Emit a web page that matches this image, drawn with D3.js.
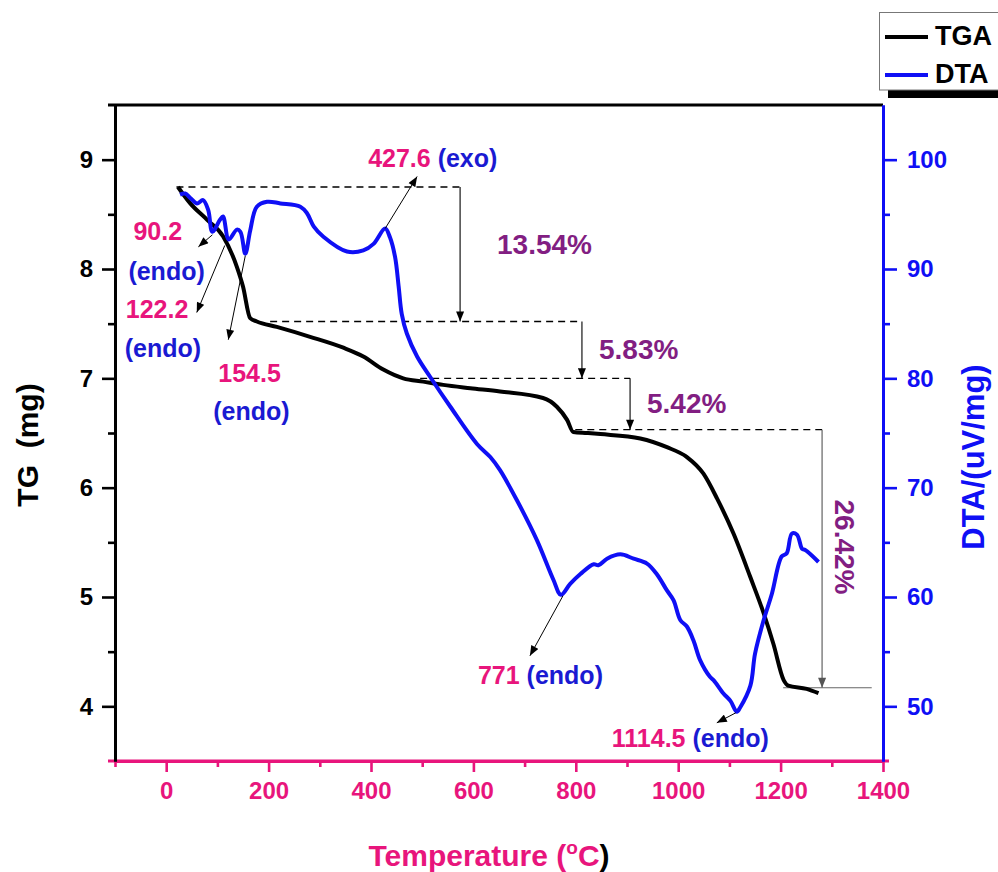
<!DOCTYPE html>
<html>
<head>
<meta charset="utf-8">
<script src="https://cdn.jsdelivr.net/npm/d3@7"></script>
<style>
  body { margin: 0; background: #fff; }
  svg { display: block; }
  text { font-family: "Liberation Sans", Arial, sans-serif; font-weight: bold; }
</style>
</head>
<body>
<svg id="chart" width="998" height="872"></svg>
<script>
// ---- Thermogram data ----
const tgaTemp = [23, 47, 80, 111, 138, 150, 164, 177, 216, 281, 346, 385, 424, 463, 502, 541, 594, 652, 736, 763, 783, 795, 822, 848, 926, 978, 1017, 1049, 1076, 1108, 1141, 1167, 1186, 1206, 1215, 1251, 1274];
const tgaMass = [8.75, 8.60, 8.45, 8.30, 8.02, 7.84, 7.55, 7.52, 7.47, 7.38, 7.28, 7.20, 7.08, 7.00, 6.97, 6.94, 6.91, 6.88, 6.82, 6.74, 6.62, 6.51, 6.50, 6.49, 6.45, 6.37, 6.28, 6.13, 5.90, 5.58, 5.18, 4.85, 4.57, 4.24, 4.19, 4.16, 4.12];

const dtaTemp = [27, 37, 47, 60, 72, 82, 90.2, 105, 111, 122.2, 138, 145, 154.5, 164, 177, 197, 223, 262, 275, 288, 307, 353, 385, 405, 427.6, 437, 447, 454, 460, 470, 490, 516, 555, 607, 633, 652, 685, 724, 756, 771, 789, 809, 835, 844, 861, 887, 913, 939, 958, 978, 991, 1004, 1017, 1030, 1043, 1062, 1069, 1088, 1102, 1114.5, 1121, 1141, 1150, 1167, 1183, 1202, 1212, 1222, 1232, 1242, 1248, 1261, 1274];
const dtaSignal = [96.8, 96.9, 96.5, 96.0, 96.3, 95.4, 93.4, 94.5, 94.8, 92.7, 93.6, 93.4, 91.4, 93.5, 95.7, 96.15, 96.0, 95.7, 95.1, 93.9, 92.95, 91.6, 91.7, 92.3, 93.7, 92.9, 91.1, 88.4, 85.9, 84.1, 82.0, 80.1, 77.4, 74.0, 72.8, 71.6, 68.85, 65.2, 61.6, 60.2, 61.2, 62.1, 63.0, 62.9, 63.5, 63.9, 63.5, 63.06, 62.1, 60.6, 59.7, 57.9, 57.3, 56.0, 54.2, 52.7, 52.4, 51.2, 50.5, 49.5, 49.9, 51.9, 54.8, 57.9, 60.3, 63.7, 64.0, 65.8, 65.7, 64.4, 64.3, 63.8, 63.2];

const tempTicks = [0, 200, 400, 600, 800, 1000, 1200, 1400];
const tempMinor = [-100, 100, 300, 500, 700, 900, 1100, 1300];
const massTicks = [4, 5, 6, 7, 8, 9];
const massMinor = [4.5, 5.5, 6.5, 7.5, 8.5];
const dtaTicks = [50, 60, 70, 80, 90, 100];
const dtaMinor = [55, 65, 75, 85, 95];

// DTA peaks (temperature in °C) and their type
const peakTemp = [90.2, 122.2, 154.5, 427.6, 771, 1114.5];
const peakKind = ["endo", "endo", "endo", "exo", "endo", "endo"];

// TG plateaus (mg) and the mass loss between them
const stepMass = [8.75, 7.52, 7.00, 6.53, 4.17];
const stepLoss = ["13.54%", "5.83%", "5.42%", "26.42%"];
const stepArrowTemp = [574, 812, 906, 1281];
const stepLineFrom = [20, 203, 496, 799];
const finalLineSpan = [1205, 1378];

// ---- Styling ----
const PINK = "#e8157c", BLUE = "#0f0ff5", TXTBLUE = "#1a1ad2", PURPLE = "#821e82";

const svg = d3.select("#chart");
const M = { left: 115, right: 883, top: 105, bottom: 761 };

const x = d3.scaleLinear().domain([-100, 1400]).range([M.left, M.right]);
const yL = d3.scaleLinear().domain([3.5, 9.5]).range([M.bottom, M.top]);
const yR = d3.scaleLinear().domain([45, 105]).range([M.bottom, M.top]);
const fmt = d3.format("d");

// arrow heads
const defs = svg.append("defs");
function marker(id, color) {
  defs.append("marker").attr("id", id)
    .attr("viewBox", "0 0 10 8").attr("refX", 10).attr("refY", 4)
    .attr("markerWidth", 11).attr("markerHeight", 8).attr("markerUnits", "userSpaceOnUse")
    .attr("orient", "auto")
    .append("path").attr("d", "M0,0 L10,4 L0,8 Z").attr("fill", color);
}
marker("ah", "#000");
marker("ahg", "#555");

// ---- Axes ----
function styleAxis(g, color, fs) {
  g.select(".domain").attr("stroke", color).attr("stroke-width", 3);
  g.selectAll(".tick line").attr("stroke", color).attr("stroke-width", 2.6);
  g.selectAll(".tick text").attr("fill", color).attr("font-size", fs)
    .attr("font-family", "'Liberation Sans', Arial, sans-serif").attr("font-weight", "bold");
}

// top frame line
svg.append("line").attr("x1", 108).attr("x2", M.right).attr("y1", M.top).attr("y2", M.top)
  .attr("stroke", "#000").attr("stroke-width", 3);

const gxMinor = svg.append("g").attr("transform", `translate(0,${M.bottom})`)
  .call(d3.axisBottom(x).tickValues(tempMinor).tickSize(6).tickSizeOuter(0).tickFormat(""));
styleAxis(gxMinor, PINK, 24);
const gx = svg.append("g").attr("transform", `translate(0,${M.bottom})`)
  .call(d3.axisBottom(x).tickValues(tempTicks).tickSize(11).tickPadding(10).tickSizeOuter(0).tickFormat(fmt));
styleAxis(gx, PINK, 24);
gx.select(".domain").attr("d", `M${108},0H${M.right + 6}`);

const gyMinor = svg.append("g").attr("transform", `translate(${M.left},0)`)
  .call(d3.axisLeft(yL).tickValues(massMinor).tickSize(7).tickSizeOuter(0).tickFormat(""));
styleAxis(gyMinor, "#000", 24);
const gy = svg.append("g").attr("transform", `translate(${M.left},0)`)
  .call(d3.axisLeft(yL).tickValues(massTicks).tickSize(13).tickPadding(9).tickSizeOuter(0).tickFormat(fmt));
styleAxis(gy, "#000", 24);

const grMinor = svg.append("g").attr("transform", `translate(${M.right},0)`)
  .call(d3.axisRight(yR).tickValues(dtaMinor).tickSize(7).tickSizeOuter(0).tickFormat(""));
styleAxis(grMinor, BLUE, 24);
const gr = svg.append("g").attr("transform", `translate(${M.right},0)`)
  .call(d3.axisRight(yR).tickValues(dtaTicks).tickSize(14).tickPadding(10).tickSizeOuter(0).tickFormat(fmt));
styleAxis(gr, BLUE, 24);

// axis titles
const xt = svg.append("text").attr("x", 489).attr("y", 866).attr("text-anchor", "middle")
  .attr("font-size", 30).attr("fill", PINK);
xt.append("tspan").text("Temperature (");
xt.append("tspan").text("o").attr("font-size", 19).attr("dy", -12);
xt.append("tspan").text("C").attr("dy", 12);
xt.append("tspan").text(")").attr("fill", "#000");

svg.append("text").attr("transform", "translate(38,445) rotate(-90)")
  .attr("text-anchor", "middle").attr("font-size", 30).attr("fill", "#000")
  .attr("xml:space", "preserve").style("white-space", "pre").text("TG  (mg)");

svg.append("text").attr("transform", "translate(984,457) rotate(-90)")
  .attr("text-anchor", "middle").attr("font-size", 31).attr("fill", BLUE)
  .text("DTA/(uV/mg)");

// ---- Mass-loss step guides ----
const guides = svg.append("g");
stepLoss.forEach((_, i) => {
  guides.append("line")
    .attr("x1", x(stepLineFrom[i])).attr("x2", x(stepArrowTemp[i]))
    .attr("y1", yL(stepMass[i])).attr("y2", yL(stepMass[i]))
    .attr("stroke", "#000").attr("stroke-width", 1.3).attr("stroke-dasharray", "7,5");
  const last = i === stepLoss.length - 1;
  guides.append("line")
    .attr("x1", x(stepArrowTemp[i])).attr("x2", x(stepArrowTemp[i]))
    .attr("y1", yL(stepMass[i])).attr("y2", yL(stepMass[i + 1]))
    .attr("stroke", last ? "#555" : "#000").attr("stroke-width", 1.1)
    .attr("marker-end", last ? "url(#ahg)" : "url(#ah)");
});
guides.append("line")
  .attr("x1", x(finalLineSpan[0])).attr("x2", x(finalLineSpan[1]))
  .attr("y1", yL(stepMass[4])).attr("y2", yL(stepMass[4]))
  .attr("stroke", "#666").attr("stroke-width", 1.1);

// ---- Curves ----
const tgaLine = d3.line().x((d, i) => x(tgaTemp[i])).y(d => yL(d)).curve(d3.curveMonotoneX);
const dtaLine = d3.line().x((d, i) => x(dtaTemp[i])).y(d => yR(d)).curve(d3.curveCatmullRom.alpha(0.5));

svg.append("path").attr("d", tgaLine(tgaMass)).attr("fill", "none")
  .attr("stroke", "#000").attr("stroke-width", 4).attr("stroke-linejoin", "round");
svg.append("path").attr("d", dtaLine(dtaSignal)).attr("fill", "none")
  .attr("stroke", BLUE).attr("stroke-width", 4).attr("stroke-linejoin", "round");

// ---- Loss labels ----
const lossPos = [[497, 254, 0], [599, 359, 0], [647, 413, 0], [846, 547, 90]];
stepLoss.forEach((s, i) => {
  const [px, py, rot] = lossPos[i];
  const t = svg.append("text").attr("font-size", 28).attr("fill", PURPLE).text(s);
  if (rot) t.attr("transform", `translate(${px - 11},${py}) rotate(90)`).attr("text-anchor", "middle");
  else t.attr("x", px).attr("y", py);
});

// ---- Peak annotations ----
// arrow start/end offsets and label offsets relative to the peak on the DTA curve
const peakLayout = [
  { a: [0, 3, -14, 15],  lab: [[-79, 8], [-84, 48]] },
  { a: [-4, 6, -32, 73], lab: [[-103, 79], [-104, 118]] },
  { a: [0, 2, -17, 86],  lab: [[-27, 128], [-32, 166]] },
  { a: [0, 0, 32, -52],  lab: [[-17, -62]] },
  { a: [2, 1, -31, 61],  lab: [[-83, 89]] },
  { a: [-1, 1, -20, 11], lab: [[-125, 35]] }
];
const notes = svg.append("g");
peakTemp.forEach((t, i) => {
  const px = x(t), py = yR(dtaSignal[dtaTemp.indexOf(t)]);
  const L = peakLayout[i];
  notes.append("line")
    .attr("x1", px + L.a[0]).attr("y1", py + L.a[1])
    .attr("x2", px + L.a[2]).attr("y2", py + L.a[3])
    .attr("stroke", "#000").attr("stroke-width", 1).attr("marker-end", "url(#ah)");
  const label = String(t);
  const kind = `(${peakKind[i]})`;
  if (L.lab.length === 2) {
    notes.append("text").attr("x", px + L.lab[0][0]).attr("y", py + L.lab[0][1])
      .attr("font-size", 25).attr("fill", PINK).text(label);
    notes.append("text").attr("x", px + L.lab[1][0]).attr("y", py + L.lab[1][1])
      .attr("font-size", 25).attr("fill", TXTBLUE).text(kind);
  } else {
    const tx = notes.append("text").attr("x", px + L.lab[0][0]).attr("y", py + L.lab[0][1])
      .attr("font-size", 25).attr("xml:space", "preserve").style("white-space", "pre");
    tx.append("tspan").attr("fill", PINK).text(label);
    tx.append("tspan").attr("fill", TXTBLUE).text(" " + kind);
  }
});

// ---- Legend ----
const lg = svg.append("g");
lg.append("rect").attr("x", 888).attr("y", 90).attr("width", 120).attr("height", 8).attr("fill", "#000");
lg.append("rect").attr("x", 879.5).attr("y", 12.5).attr("width", 130).attr("height", 77.5)
  .attr("fill", "#fff").attr("stroke", "#777").attr("stroke-width", 1);
const legendItems = [["TGA", "#000", 37], ["DTA", BLUE, 75]];
legendItems.forEach(([name, color, ly]) => {
  lg.append("line").attr("x1", 885).attr("x2", 928).attr("y1", ly).attr("y2", ly)
    .attr("stroke", color).attr("stroke-width", 4);
  lg.append("text").attr("x", 935).attr("y", ly + 1).attr("font-size", 27).attr("fill", "#000")
    .attr("dominant-baseline", "middle").text(name);
});
</script>
</body>
</html>
